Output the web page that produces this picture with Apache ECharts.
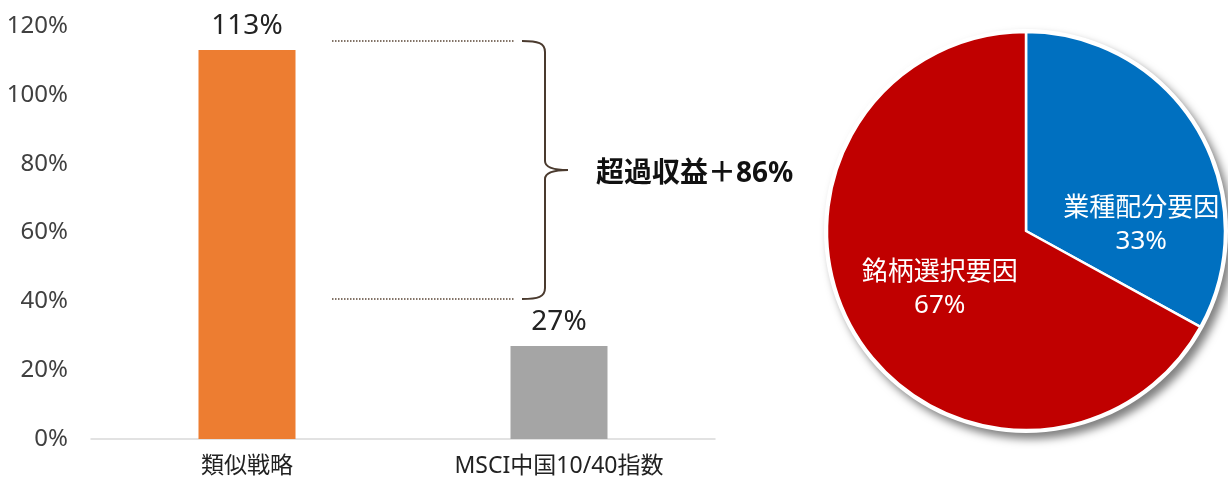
<!DOCTYPE html>
<html>
<head>
<meta charset="utf-8">
<script src="https://cdn.jsdelivr.net/npm/echarts@6/dist/echarts.min.js"></script>
<style>
  html, body { margin: 0; padding: 0; background: #fff; }
  #chart { width: 1228px; height: 484px; }
</style>
</head>
<body>
<div id="chart"></div>
<script>
  // 棒グラフ
  const barCategories = ['類似戦略', 'MSCI中国10/40指数'];
  const barValues = [113, 27];
  const barColors = ['#ED7D31', '#A5A5A5'];
  const yTicks = [0, 20, 40, 60, 80, 100, 120];

  // 円グラフ
  const pieNames = ['業種配分要因', '銘柄選択要因'];
  const pieValues = [33, 67];
  const pieColors = ['#0070C0', '#C00000'];

  const noteText = '超過収益＋86%';
  const FONT = "'Noto Sans', 'Noto Sans CJK JP', sans-serif";

  const myChart = echarts.init(document.getElementById('chart'));

  const pieTotal = pieValues.reduce((a, b) => a + b, 0);
  // ラベル位置の微調整 (Excel風)
  const pieLabelShift = [{dx: 27, dy: 46}, {dx: 2, dy: 6}];

  const braceStyle = { stroke: '#4a3a2e', lineWidth: 2, fill: null };
  const dotStyle = { stroke: '#5a4636', lineWidth: 1.5, lineDash: [1.5, 1.5] };

  const option = {
    animation: false,
    textStyle: { fontFamily: FONT },
    grid: {
      left: 91,
      right: 513,
      top: 26,
      bottom: 45
    },
    xAxis: {
      type: 'category',
      data: barCategories,
      axisLine: { lineStyle: { color: '#d9d9d9', width: 1.5 } },
      axisTick: { show: false },
      axisLabel: {
        color: '#222',
        fontSize: 23,
        margin: 16,
        fontFamily: FONT
      }
    },
    yAxis: {
      type: 'value',
      min: yTicks[0],
      max: yTicks[yTicks.length - 1],
      interval: 20,
      splitLine: { show: false },
      axisLine: { show: false },
      axisTick: { show: false },
      axisLabel: {
        color: '#404040',
        fontSize: 24,
        margin: 23,
        formatter: v => v + '%'
      }
    },
    series: [
      {
        type: 'bar',
        barWidth: 97,
        data: barValues.map((v, i) => ({ value: v, itemStyle: { color: barColors[i] } })),
        label: {
          show: true,
          position: 'top',
          distance: 10,
          color: '#222',
          fontSize: 28,
          formatter: p => p.value + '%'
        }
      },
      {
        // 影付きの白い縁
        type: 'pie',
        center: [1026, 231],
        radius: 202,
        silent: true,
        z: 1,
        label: { show: false },
        data: [{ value: pieTotal, itemStyle: {
          color: '#fff',
          shadowBlur: 9,
          shadowOffsetX: 5,
          shadowOffsetY: 6,
          shadowColor: 'rgba(0,0,0,0.5)'
        } }]
      },
      {
        type: 'pie',
        center: [1026, 231],
        radius: 199,
        startAngle: 90,
        clockwise: true,
        z: 2,
        data: pieNames.map((n, i) => ({
          name: n,
          value: pieValues[i],
          itemStyle: { color: pieColors[i] }
        })),
        itemStyle: { borderColor: '#fff', borderWidth: 2.5 },
        label: {
          show: true,
          position: 'inside',
          color: '#fff',
          fontSize: 26,
          lineHeight: 33,
          formatter: p => p.name + '\n' + p.value + '%'
        },
        labelLine: { show: false },
        labelLayout: p => pieLabelShift[p.dataIndex]
      }
    ],
    graphic: [
      { type: 'line', shape: { x1: 332, y1: 41, x2: 514, y2: 41 }, style: dotStyle },
      { type: 'line', shape: { x1: 332, y1: 299, x2: 514, y2: 299 }, style: dotStyle },
      // 中括弧
      { type: 'bezierCurve', shape: { x1: 522, y1: 41, cpx1: 538, cpy1: 41, cpx2: 545, cpy2: 43, x2: 545, y2: 52 }, style: braceStyle },
      { type: 'line', shape: { x1: 545, y1: 52, x2: 545, y2: 161 }, style: braceStyle },
      { type: 'bezierCurve', shape: { x1: 545, y1: 161, cpx1: 545, cpy1: 168, cpx2: 555, cpy2: 170, x2: 568, y2: 170 }, style: braceStyle },
      { type: 'bezierCurve', shape: { x1: 568, y1: 170, cpx1: 555, cpy1: 170, cpx2: 545, cpy2: 172, x2: 545, y2: 179 }, style: braceStyle },
      { type: 'line', shape: { x1: 545, y1: 179, x2: 545, y2: 288 }, style: braceStyle },
      { type: 'bezierCurve', shape: { x1: 545, y1: 288, cpx1: 545, cpy1: 297, cpx2: 538, cpy2: 299, x2: 522, y2: 299 }, style: braceStyle },
      {
        type: 'text',
        x: 596,
        y: 174,
        style: {
          text: noteText,
          font: "bold 28px 'Noto Sans', 'Noto Sans CJK JP', sans-serif",
          fill: '#111',
          verticalAlign: 'middle'
        }
      }
    ]
  };

  myChart.setOption(option);
</script>
</body>
</html>
